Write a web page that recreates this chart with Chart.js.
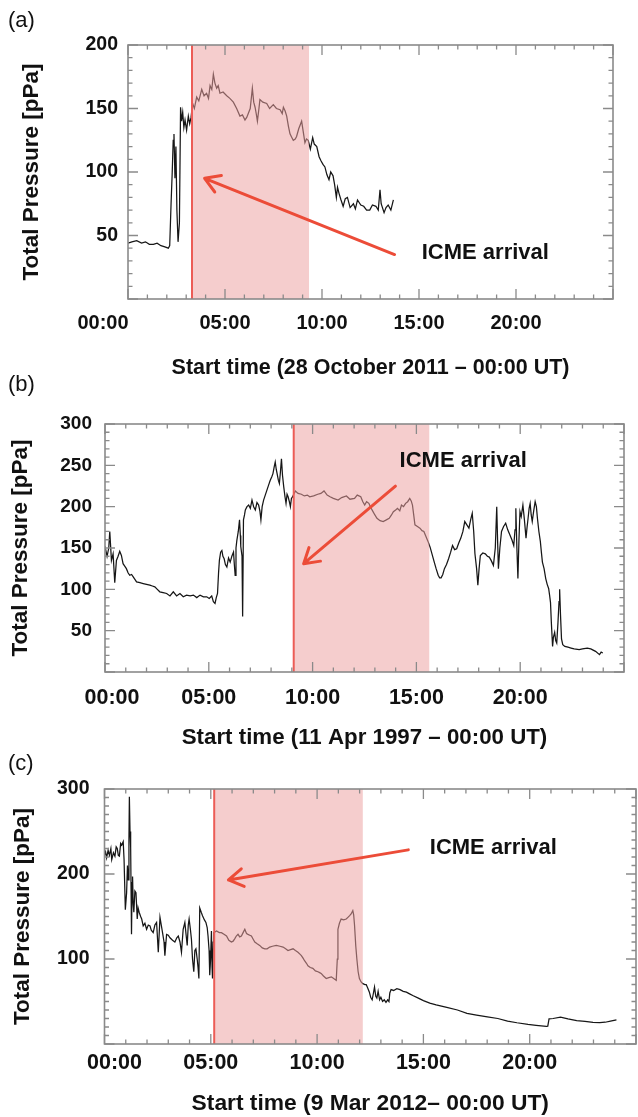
<!DOCTYPE html>
<html><head><meta charset="utf-8">
<script src="https://cdn.jsdelivr.net/npm/chart.js@4.4.1/dist/chart.umd.min.js"></script>
<style>
html,body{margin:0;padding:0;background:#fff;}
body{width:638px;height:1117px;position:relative;overflow:hidden;font-family:"Liberation Sans",Arial,sans-serif;}
.panel{position:absolute;left:0;width:638px;}
.lbl{position:absolute;left:8px;font-size:22px;color:#111;line-height:24px;}
</style></head><body>
<div class="panel" style="top:0;height:385px"><canvas id="ca"></canvas></div>
<div class="panel" style="top:385px;height:370px"><canvas id="cb"></canvas></div>
<div class="panel" style="top:755px;height:362px"><canvas id="cc"></canvas></div>
<div class="lbl" style="top:8px">(a)</div>
<div class="lbl" style="top:372px">(b)</div>
<div class="lbl" style="top:751px">(c)</div>
<script>
// ---------- DATA ----------
const xTickHours = [0, 5, 10, 15, 20];
const xTickLabels = ["00:00", "05:00", "10:00", "15:00", "20:00"];
const yTicksA = [50, 100, 150, 200];
const yTicksB = [50, 100, 150, 200, 250, 300];
const yTicksC = [100, 200, 300];

// Panel (a) 28 October 2011 : hours, total pressure [pPa]
const tA = [0.00,0.2,0.45,0.7,0.9,1.1,1.31,1.5,1.7,1.9,2.08,2.15,2.22,2.28,2.33,2.37,2.42,2.47,2.52,2.58,2.65,2.71,2.76,2.82,2.88,2.94,3.02,3.11,3.18,3.25,3.33,3.42,3.54,3.65,3.80,3.92,4.05,4.15,4.23,4.32,4.40,4.48,4.57,4.65,4.74,4.9,5.09,5.25,5.43,5.6,5.77,5.9,6.03,6.12,6.20,6.30,6.41,6.48,6.55,6.62,6.67,6.75,6.80,6.95,7.15,7.3,7.49,7.65,7.84,7.95,8.01,8.10,8.18,8.27,8.35,8.45,8.52,8.62,8.69,8.8,8.95,9.05,9.12,9.2,9.29,9.40,9.52,9.6,9.73,9.85,9.94,10.05,10.15,10.25,10.36,10.45,10.57,10.65,10.74,10.8,10.88,10.98,11.09,11.2,11.31,11.45,11.62,11.72,11.83,12.0,12.15,12.3,12.46,12.6,12.78,12.9,12.99,13.05,13.2,13.3,13.41,13.55,13.68];
const pA = [44,45,46,44,45,43,43,44,42,41,40,42,75,100,125,130,95,120,70,45,60,151,140,147,135,141,133,144,138,143,154,150,159,156,165,160,162,158,168,165,177,170,166,168,162,163,160,158,155,150,144,145,141,143,146,150,166,155,151,145,140,150,157,155,154,150,153,150,149,146,151,148,144,136,130,127,125,126,128,134,140,130,123,126,125,118,127,122,120,112,109,106,104,98,94,100,97,90,80,88,83,78,73,79,80,72,75,71,78,74,73,70,70,74,73,70,86,75,68,72,74,70,78];

// Panel (b) 11 Apr 1997
const tB = [0.00,0.1,0.18,0.23,0.31,0.39,0.47,0.55,0.63,0.71,0.79,0.87,0.95,1.03,1.11,1.19,1.28,1.36,1.44,1.52,1.68,1.84,2.0,2.16,2.28,2.40,2.52,2.64,2.8,2.97,3.13,3.29,3.45,3.61,3.77,3.93,4.1,4.26,4.42,4.58,4.74,4.90,5.02,5.14,5.22,5.30,5.36,5.42,5.47,5.51,5.57,5.63,5.68,5.74,5.8,5.87,5.95,6.03,6.11,6.19,6.23,6.27,6.31,6.35,6.42,6.48,6.52,6.54,6.6,6.63,6.67,6.72,6.76,6.84,6.92,7.0,7.08,7.16,7.24,7.32,7.40,7.46,7.51,7.57,7.64,7.72,7.80,7.88,7.96,8.03,8.09,8.15,8.20,8.25,8.29,8.35,8.40,8.45,8.50,8.55,8.61,8.67,8.72,8.77,8.82,8.88,8.93,8.98,9.04,9.09,9.17,9.3,9.46,9.6,9.75,9.86,10.05,10.25,10.4,10.55,10.7,10.84,11.0,11.23,11.4,11.63,11.8,12.02,12.15,12.32,12.42,12.51,12.6,12.71,12.8,12.91,13.0,13.10,13.25,13.40,13.55,13.69,13.8,13.89,14.0,14.09,14.2,14.28,14.38,14.48,14.58,14.68,14.75,14.81,14.87,14.93,15.05,15.17,15.27,15.36,15.46,15.56,15.66,15.76,15.86,15.95,16.05,16.12,16.19,16.27,16.35,16.45,16.55,16.65,16.74,16.84,16.94,17.04,17.14,17.24,17.33,17.43,17.53,17.62,17.69,17.76,17.82,17.9,17.96,18.02,18.08,18.2,18.32,18.42,18.51,18.6,18.71,18.8,18.87,18.91,18.95,19.02,19.10,19.2,19.30,19.4,19.50,19.6,19.69,19.75,19.79,19.84,19.89,19.94,19.99,20.05,20.13,20.2,20.28,20.33,20.38,20.43,20.48,20.53,20.58,20.65,20.72,20.78,20.83,20.9,20.97,21.02,21.07,21.15,21.23,21.3,21.37,21.42,21.46,21.5,21.56,21.6,21.66,21.71,21.76,21.82,21.87,21.90,21.94,21.99,22.05,22.15,22.3,22.45,22.6,22.84,23.0,23.23,23.4,23.63,23.82,23.9,23.98];
const pB = [152,140,150,170,135,143,108,135,140,146,141,131,128,125,120,117,118,115,112,109,108,107,106,105,104,103,100,97,96,95,92,97,92,95,91,93,92,93,90,93,91,91,89,92,85,83,90,95,120,135,145,147,140,137,130,127,138,133,140,145,130,117,150,159,170,184,165,152,140,67,184,190,196,200,202,198,208,200,196,205,202,195,184,200,208,214,220,226,232,236,240,248,254,245,240,232,228,242,258,238,224,212,204,215,212,206,200,210,212,215,219,216,215,213,214,212,213,215,216,219,214,212,210,208,211,213,209,210,214,212,206,202,206,204,199,194,190,186,183,182,184,186,190,194,196,198,195,202,200,204,206,210,207,202,190,178,176,174,171,170,164,158,151,142,133,125,117,114,114,118,125,130,137,145,153,148,149,156,162,170,182,178,174,185,192,170,143,125,105,125,141,144,143,140,139,135,129,150,200,160,125,150,170,176,180,172,166,160,153,172,198,150,113,160,194,188,202,185,162,175,186,198,204,190,182,195,206,200,186,170,158,145,133,125,113,106,101,92,84,60,31,42,48,38,35,60,85,100,70,40,33,31,30,29,28,27,28,29,28,25,21,24,23];

// Panel (c) 9 Mar 2012
const tC = [0.00,0.05,0.10,0.17,0.23,0.30,0.34,0.42,0.49,0.55,0.60,0.65,0.70,0.76,0.81,0.88,0.92,0.98,1.04,1.08,1.12,1.15,1.17,1.2,1.23,1.25,1.27,1.30,1.32,1.35,1.38,1.43,1.48,1.54,1.58,1.63,1.7,1.75,1.82,1.9,1.98,2.06,2.14,2.2,2.29,2.37,2.45,2.53,2.61,2.67,2.73,2.8,2.84,2.92,3.0,3.08,3.2,3.31,3.4,3.47,3.55,3.62,3.7,3.78,3.84,3.89,3.94,3.98,4.04,4.09,4.14,4.20,4.25,4.30,4.36,4.40,4.44,4.48,4.55,4.61,4.7,4.77,4.83,4.87,4.92,4.95,4.99,5.03,5.06,5.08,5.11,5.14,5.27,5.4,5.50,5.62,5.74,5.85,5.97,6.05,6.13,6.2,6.28,6.36,6.44,6.52,6.60,6.68,6.75,6.83,6.91,7.0,7.07,7.18,7.30,7.42,7.54,7.65,7.77,7.9,8.08,8.25,8.40,8.52,8.63,8.75,8.87,8.98,9.10,9.18,9.26,9.34,9.41,9.5,9.57,9.68,9.80,9.92,10.04,10.12,10.19,10.3,10.43,10.55,10.67,10.78,10.90,10.95,10.98,11.05,11.13,11.25,11.37,11.45,11.53,11.6,11.68,11.72,11.76,11.82,11.87,11.93,11.99,12.07,12.15,12.25,12.31,12.38,12.46,12.52,12.59,12.65,12.70,12.76,12.81,12.87,12.94,13.0,13.08,13.16,13.24,13.32,13.38,13.42,13.48,13.6,13.75,13.9,14.05,14.2,14.35,14.5,14.76,15.0,15.3,15.6,16.1,16.6,17.05,17.5,18.01,18.5,18.96,19.4,19.92,20.3,20.78,20.85,20.91,21.1,21.45,21.8,22.21,22.6,22.98,23.3,23.55,23.8,24.08];
const pC = [222,226,219,228,222,230,217,225,221,232,230,222,221,236,234,238,217,158,178,210,193,240,291,250,232,180,129,190,197,165,155,180,178,147,160,155,150,147,139,142,135,140,139,134,131,140,143,108,149,140,131,120,104,129,128,125,122,120,125,127,120,108,135,143,128,116,140,147,135,123,100,85,110,112,100,90,77,160,155,151,146,143,137,127,110,81,100,133,90,77,120,131,133,131,131,129,127,122,120,121,124,127,129,126,127,131,135,130,129,128,127,123,120,118,116,113,112,112,114,115,116,115,114,112,110,111,112,110,108,106,104,101,98,95,92,90,89,86,85,84,83,80,77,78,79,77,75,100,135,142,147,146,147,149,151,153,157,152,140,115,100,85,77,73,71,70,70,66,61,55,52,60,67,56,54,62,52,55,50,52,49,52,50,60,64,63,65,64,62,61,59,57,54,51,48,46,43,40,36,34,32,30,27,25,23,22,20.6,21,29.5,30,31.5,29.5,27.6,26.5,25.3,25.2,25.6,26.8,28.3];

// ICME arrival (red line) and end of shaded interval, hours
const arrivalA = 3.3, shadeEndA = 9.33;
const arrivalB = 9.09, shadeEndB = 15.62;
const arrivalC = 5.16, shadeEndC = 12.15;

// ---------- DRAWING ----------
const FAM = '"Liberation Sans", Arial, Helvetica, sans-serif';

const framePlugin = {
  id: 'frame',
  afterDatasetsDraw(chart) {
    const P = chart.options.plugins.frame;
    const {ctx, chartArea: a, scales: {x, y}} = chart;
    ctx.save();
    // shaded ICME interval
    const xs = x.getPixelForValue(P.arrival), xe = x.getPixelForValue(P.shadeEnd);
    ctx.fillStyle = 'rgba(236,161,161,0.53)';
    ctx.fillRect(xs, a.top, xe - xs, a.bottom - a.top);
    // red arrival line
    ctx.strokeStyle = 'rgb(236,92,86)';
    ctx.lineWidth = 2;
    ctx.beginPath(); ctx.moveTo(xs, a.top); ctx.lineTo(xs, a.bottom); ctx.stroke();
    // frame
    ctx.strokeStyle = '#8a8a8a';
    ctx.lineWidth = 1.6;
    ctx.strokeRect(a.left, a.top, a.right - a.left, a.bottom - a.top);
    // ticks
    ctx.lineWidth = 1.3;
    ctx.beginPath();
    for (let h = 0; h <= x.max + 1e-6; h += 1) {
      const px = x.getPixelForValue(h);
      const L = (h % 5 === 0) ? 10 : 4.5;
      ctx.moveTo(px, a.bottom); ctx.lineTo(px, a.bottom - L);
      ctx.moveTo(px, a.top); ctx.lineTo(px, a.top + L);
    }
    for (let v = 0; v <= y.max + 1e-6; v += P.yMinor) {
      const py = y.getPixelForValue(v);
      const L = (v % P.yMajor === 0) ? 10 : 4.5;
      ctx.moveTo(a.left, py); ctx.lineTo(a.left + L, py);
      ctx.moveTo(a.right, py); ctx.lineTo(a.right - L, py);
    }
    ctx.stroke();
    // x tick labels
    ctx.fillStyle = '#111';
    ctx.font = 'bold ' + P.xFont + 'px ' + FAM;
    ctx.textAlign = 'center';
    ctx.textBaseline = 'middle';
    xTickHours.forEach((h, i) => {
      const px = x.getPixelForValue(h) + (i === 0 ? P.firstShift : 0);
      ctx.fillText(xTickLabels[i], px, a.bottom + P.xLabelOff);
    });
    // arrow
    const x1 = x.getPixelForValue(P.arrowFrom[0]), y1 = y.getPixelForValue(P.arrowFrom[1]);
    const x2 = x.getPixelForValue(P.arrowTo[0]), y2 = y.getPixelForValue(P.arrowTo[1]);
    const ang = Math.atan2(y2 - y1, x2 - x1);
    ctx.strokeStyle = 'rgb(236,76,56)';
    ctx.lineWidth = 3;
    ctx.lineCap = 'round';
    ctx.lineJoin = 'round';
    ctx.beginPath();
    ctx.moveTo(x1, y1); ctx.lineTo(x2, y2);
    const hl = 17, spread = 0.55;
    ctx.moveTo(x2 - hl * Math.cos(ang - spread), y2 - hl * Math.sin(ang - spread));
    ctx.lineTo(x2, y2);
    ctx.lineTo(x2 - hl * Math.cos(ang + spread), y2 - hl * Math.sin(ang + spread));
    ctx.stroke();
    // annotation text
    ctx.fillStyle = '#111';
    ctx.font = 'bold 22px ' + FAM;
    ctx.textAlign = 'left';
    ctx.textBaseline = 'middle';
    ctx.fillText('ICME arrival', x.getPixelForValue(P.textAt[0]), y.getPixelForValue(P.textAt[1]));
    ctx.restore();
  }
};

function makePanel(id, times, values, yTicks, cfg) {
  const pts = times.map((t, i) => ({x: t, y: values[i]}));
  return new Chart(document.getElementById(id), {
    type: 'line',
    data: {datasets: [{data: pts, borderColor: '#161616', borderWidth: 1.25, pointRadius: 0, tension: 0, fill: false}]},
    options: {
      responsive: true, maintainAspectRatio: false, animation: false,
      layout: {padding: {top: cfg.padTop, left: 0, right: cfg.padRight, bottom: 0}},
      plugins: {legend: {display: false}, tooltip: {enabled: false}, frame: cfg.frame},
      scales: {
        x: {
          type: 'linear', min: 0, max: 25,
          grid: {display: false, drawTicks: false}, border: {display: false},
          ticks: {display: false},
          title: {display: true, text: cfg.xTitle, color: '#111',
                  font: {family: FAM, size: cfg.xTitleSize, weight: 'bold'},
                  padding: {top: 0, bottom: cfg.xTitlePad}},
          afterFit: s => { s.height = cfg.xAxisH; }
        },
        y: {
          type: 'linear', min: 0, max: yTicks[yTicks.length - 1],
          grid: {display: false, drawTicks: false}, border: {display: false},
          afterBuildTicks: s => { s.ticks = [0].concat(yTicks).map(v => ({value: v})); },
          ticks: {color: '#111', padding: cfg.yTickPad,
                  font: {family: FAM, size: cfg.yFont, weight: 'bold'},
                  callback: v => v === 0 ? '' : String(v)},
          title: {display: true, text: 'Total Pressure [pPa]', color: '#111',
                  font: {family: FAM, size: 22.5, weight: 'bold'},
                  padding: {top: cfg.yTitlePad, bottom: 0}},
          afterFit: s => { s.width = cfg.yAxisW; }
        }
      }
    },
    plugins: [framePlugin]
  });
}

makePanel('ca', tA, pA, yTicksA, {
  padTop: 45, padRight: 25, yAxisW: 128, xAxisH: 86, xTitlePad: 4, xTitleSize: 21.5,
  yTickPad: 10, yFont: 19.5, yTitlePad: 18,
  xTitle: 'Start time (28 October 2011 \u2013 00:00 UT)',
  frame: {arrival: arrivalA, shadeEnd: shadeEndA, yMinor: 10, yMajor: 50, xFont: 20,
          xLabelOff: 24, firstShift: -25,
          arrowFrom: [13.74, 35], arrowTo: [3.95, 95], textAt: [15.14, 36.2]}
});
makePanel('cb', tB, pB, yTicksB, {
  padTop: 39, padRight: 14, yAxisW: 105, xAxisH: 83, xTitlePad: 3.5, xTitleSize: 22.3,
  yTickPad: 13, yFont: 19, yTitlePad: 7,
  xTitle: 'Start time (11 Apr 1997 \u2013 00:00 UT)',
  frame: {arrival: arrivalB, shadeEnd: shadeEndB, yMinor: 10, yMajor: 50, xFont: 21.5,
          xLabelOff: 26, firstShift: 7,
          arrowFrom: [13.99, 224.8], arrowTo: [9.57, 131], textAt: [14.19, 255.2]}
});
makePanel('cc', tC, pC, yTicksC, {
  padTop: 34, padRight: 2, yAxisW: 104.5, xAxisH: 73, xTitlePad: 0, xTitleSize: 22.8,
  yTickPad: 15, yFont: 19.5, yTitlePad: 9,
  xTitle: 'Start time (9 Mar 2012\u2013 00:00 UT)',
  frame: {arrival: arrivalC, shadeEnd: shadeEndC, yMinor: 10, yMajor: 100, xFont: 21.5,
          xLabelOff: 19, firstShift: 10,
          arrowFrom: [14.29, 228.4], arrowTo: [5.83, 193], textAt: [15.3, 231]}
});
</script>
</body></html>
